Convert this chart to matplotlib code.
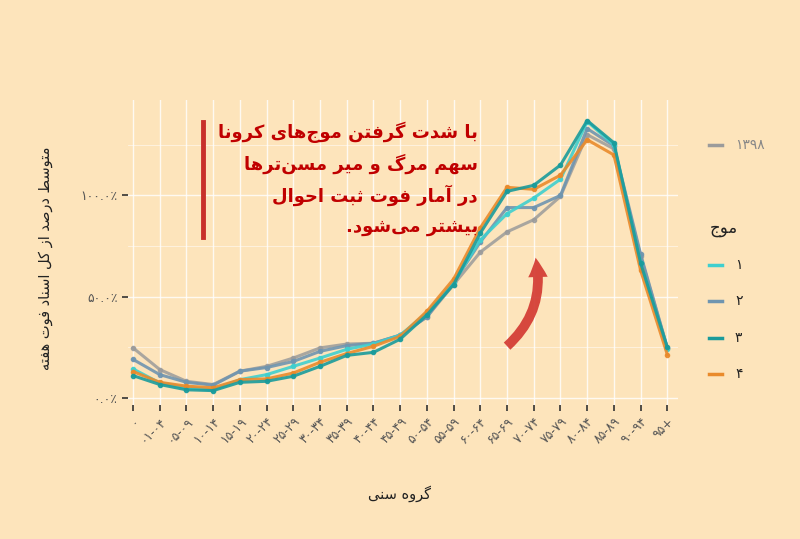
import matplotlib
matplotlib.use("Agg")
import matplotlib.pyplot as plt
from matplotlib.patches import FancyArrowPatch
from matplotlib.lines import Line2D

# ---- minimal Persian shaping (presentation forms + visual reverse) ----
FORMS = {
 'ا': (0xFE8D, 0xFE8E, None, None), 'آ': (0xFE81, 0xFE82, None, None),
 'ب': (0xFE8F, 0xFE90, 0xFE91, 0xFE92), 'ت': (0xFE95, 0xFE96, 0xFE97, 0xFE98),
 'ث': (0xFE99, 0xFE9A, 0xFE9B, 0xFE9C), 'ج': (0xFE9D, 0xFE9E, 0xFE9F, 0xFEA0),
 'ح': (0xFEA1, 0xFEA2, 0xFEA3, 0xFEA4), 'خ': (0xFEA5, 0xFEA6, 0xFEA7, 0xFEA8),
 'د': (0xFEA9, 0xFEAA, None, None), 'ذ': (0xFEAB, 0xFEAC, None, None),
 'ر': (0xFEAD, 0xFEAE, None, None), 'ز': (0xFEAF, 0xFEB0, None, None),
 'س': (0xFEB1, 0xFEB2, 0xFEB3, 0xFEB4), 'ش': (0xFEB5, 0xFEB6, 0xFEB7, 0xFEB8),
 'ص': (0xFEB9, 0xFEBA, 0xFEBB, 0xFEBC), 'ط': (0xFEC1, 0xFEC2, 0xFEC3, 0xFEC4),
 'ع': (0xFEC9, 0xFECA, 0xFECB, 0xFECC), 'ف': (0xFED1, 0xFED2, 0xFED3, 0xFED4),
 'ق': (0xFED5, 0xFED6, 0xFED7, 0xFED8), 'ل': (0xFEDD, 0xFEDE, 0xFEDF, 0xFEE0),
 'م': (0xFEE1, 0xFEE2, 0xFEE3, 0xFEE4), 'ن': (0xFEE5, 0xFEE6, 0xFEE7, 0xFEE8),
 'ه': (0xFEE9, 0xFEEA, 0xFEEB, 0xFEEC), 'و': (0xFEED, 0xFEEE, None, None),
 'ی': (0xFBFC, 0xFBFD, 0xFBFE, 0xFBFF), 'ک': (0xFB8E, 0xFB8F, 0xFB90, 0xFB91),
 'گ': (0xFB92, 0xFB93, 0xFB94, 0xFB95),
}

def joins_next(c):
    return c in FORMS and FORMS[c][2] is not None

def fa(s):
    s = s.replace('\u0650', '')
    out = []
    for i, c in enumerate(s):
        if c not in FORMS:
            out.append('' if c == '\u200c' else c)
            continue
        prev = s[i-1] if i > 0 else ''
        nxt = s[i+1] if i+1 < len(s) else ''
        jp = joins_next(prev)
        jn = joins_next(c) and nxt in FORMS
        iso, fin, ini, med = FORMS[c]
        if jp and jn:
            code = med
        elif jp:
            code = fin
        elif jn:
            code = ini
        else:
            code = iso
        out.append(chr(code))
    return ''.join(out)[::-1]

# ---- data ----
age_groups = ['۰', '۰۱-۰۴', '۰۵-۰۹', '۱۰-۱۴', '۱۵-۱۹', '۲۰-۲۴', '۲۵-۲۹', '۳۰-۳۴',
              '۳۵-۳۹', '۴۰-۴۴', '۴۵-۴۹', '۵۰-۵۴', '۵۵-۵۹', '۶۰-۶۴', '۶۵-۶۹',
              '۷۰-۷۴', '۷۵-۷۹', '۸۰-۸۴', '۸۵-۸۹', '۹۰-۹۴', '۹۵+']
y1398 = [24.7, 14, 8.2, 6.6, 13.2, 15.6, 19.7, 24.7, 26.6, 27, 31, 40, 56, 72, 82, 88, 99.5, 130, 123, 70, 24.7]
wave1 = [14.3, 7.4, 5, 4, 9, 11.5, 15.6, 19.7, 24, 26.6, 31, 42, 57, 78, 91, 98.7, 108, 136.5, 125, 66.6, 24]
wave2 = [19, 11.5, 7.7, 6.3, 13.2, 15, 18, 23, 25.8, 27, 31, 40, 57, 77, 94, 94, 100, 133, 124.5, 71, 24.7]
wave3 = [11, 6.6, 4, 3.6, 7.7, 8.2, 10.7, 15.6, 21, 22.5, 29, 41, 56, 81.4, 102, 105, 115, 137, 126, 66.6, 25]
wave4 = [13, 7.7, 5.8, 5, 9, 9.4, 12.3, 17.6, 21.9, 25.5, 30.4, 42.8, 58.7, 84, 104, 103, 110, 127.5, 120, 63, 21.4]
wave_labels = ['۱', '۲', '۳', '۴']
y_ticks = [0, 50, 100]
y_tick_labels = ['۰.۰٪', '۵۰.۰٪', '۱۰۰.۰٪']

BG = '#fde4bb'
col1398 = '#9b9b9b'
wave_colors = ['#3fcfcf', '#6f95b0', '#1a9b9b', '#e98a2b']

fig = plt.figure(figsize=(8, 5.39), dpi=100, facecolor=BG)
ax = fig.add_axes([0.16, 0.249, 0.6875, 0.565], facecolor=BG)
x = list(range(len(age_groups)))

ax.plot(x, y1398, color=col1398, lw=2.2, marker='o', ms=3, alpha=0.85, zorder=3)
for vals, c in zip([wave2, wave1, wave4, wave3], [wave_colors[1], wave_colors[0], wave_colors[3], wave_colors[2]]):
    ax.plot(x, vals, color=c, lw=2.2, marker='o', ms=3, alpha=0.9, zorder=4)

ax.set_xlim(-0.19, 20.4)
ax.set_ylim(-3.4, 147)
ax.set_xticks(x)
ax.set_xticklabels(age_groups, rotation=45, ha='right', rotation_mode='anchor',
                   fontsize=9, color='#555555')
ax.set_yticks(y_ticks)
ax.set_yticklabels(y_tick_labels, fontsize=9, color='#555555')
ax.set_yticks([25, 75, 125], minor=True)
ax.tick_params(axis='both', length=4, width=1.2, color='#333333')
ax.tick_params(axis='y', which='minor', length=0)
ax.grid(True, which='major', color='white', lw=1.0, alpha=0.8)
ax.grid(True, which='minor', axis='y', color='white', lw=0.6, alpha=0.6)
for s in ax.spines.values():
    s.set_visible(False)
ax.set_axisbelow(True)

fig.text(0.057, 0.52, fa('متوسط درصد از کل اسناد فوت هفته'), rotation=90,
         ha='center', va='center', fontsize=10.5, color='#222222')
fig.text(0.5, 0.085, fa('گروه سنی'), ha='center', va='center', fontsize=10.5, color='#222222')

# annotation
lines = ['با شدت گرفتنِ موج‌های کرونا', 'سهم مرگ و میر مسن‌ترها', 'در آمار فوت ثبت احوال', 'بیشتر می‌شود.']
fig.add_artist(Line2D([203/800, 203/800], [1-122/539, 1-237/539], color='#c8302a', lw=3.5))
for i, ln in enumerate(lines):
    fig.text(478/800, 1-(132+31.5*i)/539, fa(ln), ha='right', va='center',
             fontsize=13, fontweight='bold', color='#c00000', zorder=10)

arrow = FancyArrowPatch((505/800, 1-348/539), (535/800, 1-255/539), transform=fig.transFigure,
                        connectionstyle='arc3,rad=0.3', arrowstyle='simple,head_width=14,head_length=14,tail_width=7',
                        color='#d2362f', alpha=0.9, lw=0)
fig.add_artist(arrow)

# legend
def leg(xp, yp, c, label, fs=10, col='#222222'):
    fig.add_artist(Line2D([xp/800, (xp+13)/800], [1-yp/539]*2, color=c, lw=2.5))
    fig.text((xp+26)/800, 1-yp/539, label, ha='left', va='center', fontsize=fs, color=col)

leg(709, 145, col1398, '۱۳۹۸', 10, '#888888')
fig.text(710/800, 1-228/539, fa('موج'), ha='left', va='center', fontsize=12, color='#222222')
for i, (lab, c) in enumerate(zip(wave_labels, wave_colors)):
    leg(709, 265 + 36.3*i, c, lab)

fig.savefig('out.png', dpi=100, facecolor=BG)
